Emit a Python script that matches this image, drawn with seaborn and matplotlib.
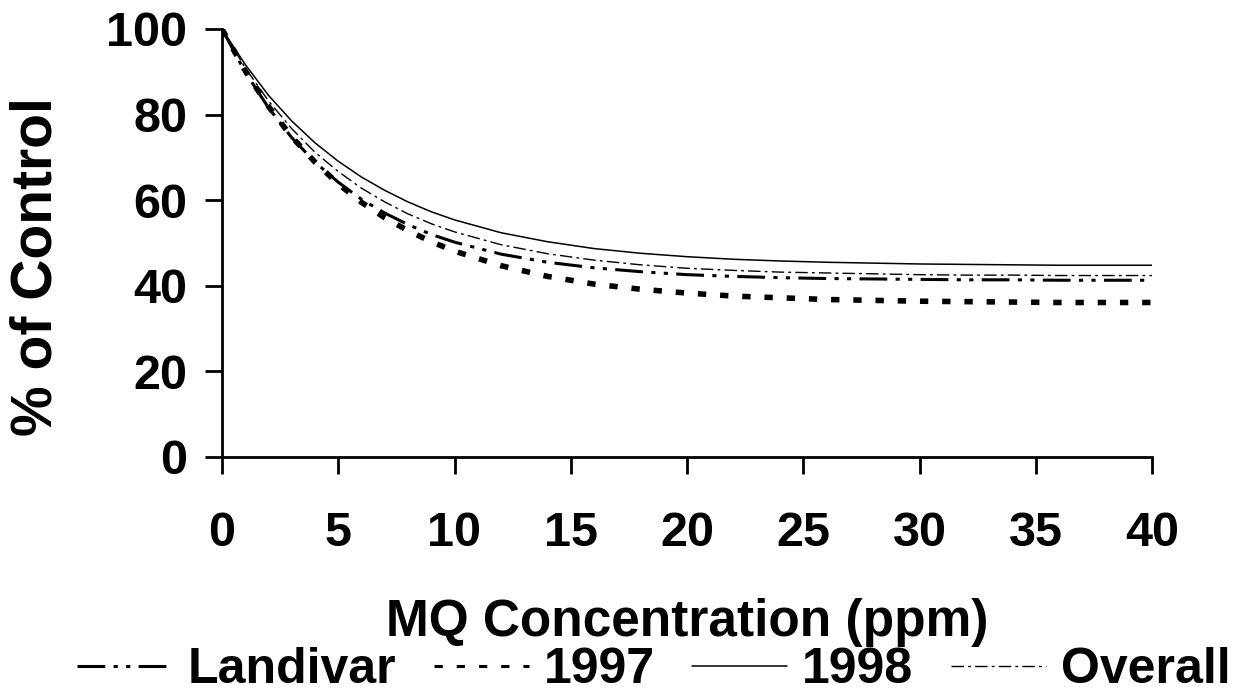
import numpy as np
import pandas as pd
import seaborn as sns
import matplotlib
matplotlib.use('Agg')
import matplotlib.pyplot as plt

# values (% of control vs MQ concentration)
conc = [0, 1, 2, 3, 4, 5, 6, 7, 8, 9, 10, 12, 14, 16, 18, 20, 22, 24, 26, 28, 30, 32, 34, 36, 38, 40]
landivar = [100, 89.9, 81.6, 74.6, 68.9, 64.2, 60.2, 57.0, 54.3, 52.0, 50.2, 47.4, 45.5, 44.2, 43.3,
            42.6, 42.2, 41.9, 41.7, 41.6, 41.5, 41.4, 41.4, 41.3, 41.3, 41.3]
y1997 = [100, 90.2, 81.9, 74.8, 68.9, 63.8, 59.5, 55.9, 52.9, 50.3, 48.1, 44.7, 42.2, 40.4, 39.2,
         38.3, 37.6, 37.2, 36.8, 36.6, 36.4, 36.3, 36.2, 36.1, 36.1, 36.1]
y1998 = [100, 91.7, 84.5, 78.5, 73.4, 69.1, 65.4, 62.3, 59.6, 57.3, 55.4, 52.4, 50.3, 48.7, 47.6,
         46.8, 46.2, 45.8, 45.5, 45.3, 45.1, 45.0, 44.9, 44.8, 44.8, 44.8]
overall = [100, 90.9, 83.2, 76.7, 71.2, 66.7, 62.8, 59.6, 56.8, 54.5, 52.6, 49.6, 47.5, 46.0, 44.9,
           44.1, 43.6, 43.2, 43.0, 42.8, 42.6, 42.5, 42.5, 42.4, 42.4, 42.4]

series_names = ['Landivar', '1997', '1998', 'Overall']
series_vals = [landivar, y1997, y1998, overall]
# line looks (width in pt, dash pattern in pt)
line_w = [2.2, 4.0, 1.1, 1.0]
line_st = [(0, (20, 6, 3, 6, 3, 6)), (0, (6, 10)), '-', (0, (9, 3, 2, 3))]
legend_w = [2.2, 2.2, 1.1, 1.0]

sns.set_style('ticks')
plt.rcParams['font.family'] = ['Liberation Sans', 'DejaVu Sans']
plt.rcParams['font.weight'] = 'bold'
plt.rcParams['lines.scale_dashes'] = False
plt.rcParams['text.color'] = 'black'
plt.rcParams['axes.labelcolor'] = 'black'
plt.rcParams['xtick.color'] = 'black'
plt.rcParams['ytick.color'] = 'black'

fig = plt.figure(figsize=(12.38, 6.96), dpi=100)
ax = fig.add_axes([222/1238, 1-457/696, 930/1238, 428/696])

for name, vals, lw, ls in zip(series_names, series_vals, line_w, line_st):
    df = pd.DataFrame({'conc': conc, 'pct': vals})
    sns.lineplot(data=df, x='conc', y='pct', ax=ax, color='black', linewidth=lw,
                 linestyle=ls, label=name)

ax.set_xlim(0, 40)
ax.set_ylim(0, 100)
ax.set_xticks(np.arange(0, 41, 5))
ax.set_yticks(np.arange(0, 101, 20))
sns.despine(ax=ax)
for sp in ['left', 'bottom']:
    ax.spines[sp].set_linewidth(2.0)
    ax.spines[sp].set_color('black')
ax.tick_params(axis='x', direction='out', length=12, width=2.0, pad=27, labelsize=35, colors='black')
ax.tick_params(axis='y', direction='out', length=12, width=2.0, pad=13, labelsize=35, colors='black')
for lab in ax.get_xticklabels() + ax.get_yticklabels():
    lab.set_fontweight('bold')

ax.set_xlabel('MQ Concentration (ppm)', fontsize=37, fontweight='bold', labelpad=30, color='black')
ax.set_ylabel('% of Control', fontsize=41, fontweight='bold', color='black')
ax.yaxis.set_label_coords(-0.17, 0.445)

leg = ax.legend(loc='center', bbox_to_anchor=(654/1238, 1-670/696), bbox_transform=fig.transFigure,
                ncol=4, frameon=False, fontsize=36, handlelength=1.9, handletextpad=0.3,
                columnspacing=0.75, borderpad=0, borderaxespad=0)
for hl, w in zip(leg.get_lines(), legend_w):
    hl.set_linewidth(w)
for t in leg.get_texts():
    t.set_color('black')

fig.savefig('out.png', dpi=100)
